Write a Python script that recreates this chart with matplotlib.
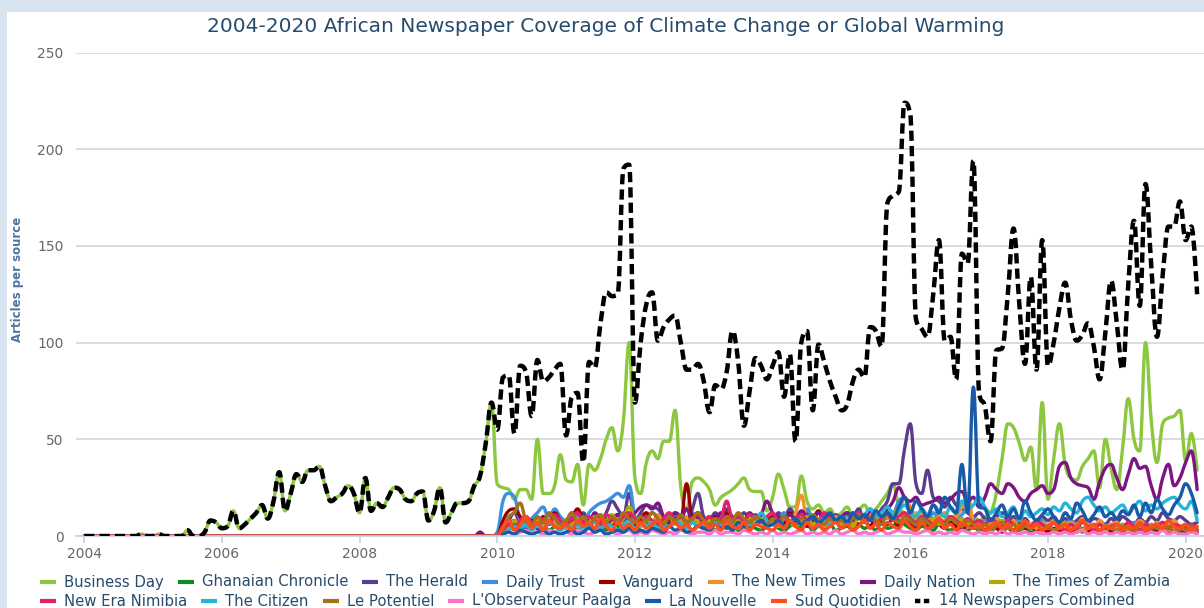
import numpy as np
import pandas as pd
import matplotlib
matplotlib.use("Agg")
import matplotlib.pyplot as plt
from matplotlib.path import Path
from matplotlib.patches import PathPatch, Rectangle
from matplotlib.lines import Line2D

# ---------------- data (monthly, Jan 2004 - Mar 2020) ----------------
months = pd.date_range("2004-01-01", "2020-03-01", freq="MS")

business_day = [
    0, 0, 0, 0, 0, 0, 0, 0, 0, 0, 1, 0,
    0, 1, 0, 0, 0, 0, 3, 0, 0, 2, 8, 7,
    4, 5, 13, 4, 6, 9, 12, 16, 9, 18, 33, 13,
    22, 32, 28, 34, 34, 36, 26, 18, 20, 22, 26, 22,
    12, 30, 13, 17, 15, 20, 25, 24, 19, 18, 22, 23,
    8, 13, 25, 7, 12, 17, 17, 18, 26, 31, 48, 69,
    27, 25, 24, 19, 24, 24, 19, 50, 22, 22, 26, 42,
    29, 28, 37, 16, 37, 34, 40, 50, 56, 44, 60, 100,
    30, 22, 38, 44, 40, 49, 49, 65, 25, 14, 28, 30,
    28, 24, 16, 20, 22, 24, 27, 30, 24, 23, 23, 13,
    20, 32, 24, 15, 15, 31, 18, 14, 16, 12, 14, 10,
    12, 15, 10, 13, 16, 12, 14, 18, 22, 27, 15, 12,
    10, 12, 8, 11, 9, 12, 10, 8, 11, 9, 7, 10,
    8, 10, 12, 22, 40, 58, 56, 48, 39, 46, 24, 69,
    19, 40, 58, 37, 30, 29, 36, 40, 44, 25, 50, 35,
    24, 45, 71, 50, 44, 100, 60, 38, 58, 61, 62, 65,
    39, 53, 34,
]

ghanaian_chronicle = [
    0, 0, 0, 0, 0, 0, 0, 0, 0, 0, 0, 0,
    0, 0, 0, 0, 0, 0, 0, 0, 0, 0, 0, 0,
    0, 0, 0, 0, 0, 0, 0, 0, 0, 0, 0, 0,
    0, 0, 0, 0, 0, 0, 0, 0, 0, 0, 0, 0,
    0, 0, 0, 0, 0, 0, 0, 0, 0, 0, 0, 0,
    0, 0, 0, 0, 0, 0, 0, 0, 0, 0, 0, 0,
    0, 2, 4, 6, 3, 5, 8, 4, 6, 3, 5, 7,
    4, 6, 3, 5, 7, 4, 6, 3, 8, 5, 4, 6,
    3, 5, 7, 4, 6, 3, 5, 8, 4, 6, 3, 5,
    4, 6, 3, 5, 4, 7, 3, 5, 6, 4, 3, 5,
    6, 4, 3, 5, 7, 4, 6, 3, 5, 4, 6, 3,
    4, 5, 3, 6, 4, 5, 3, 7, 4, 5, 8, 6,
    4, 3, 5, 4, 3, 6, 4, 3, 5, 4, 3, 5,
    3, 4, 2, 5, 3, 4, 2, 3, 4, 2, 3, 4,
    2, 3, 4, 2, 3, 2, 4, 3, 2, 3, 4, 2,
    3, 2, 4, 3, 2, 3, 2, 4, 3, 2, 3, 2,
    3, 2, 3,
]

the_herald = [
    0, 0, 0, 0, 0, 0, 0, 0, 0, 0, 0, 0,
    0, 0, 0, 0, 0, 0, 0, 0, 0, 0, 0, 0,
    0, 0, 0, 0, 0, 0, 0, 0, 0, 0, 0, 0,
    0, 0, 0, 0, 0, 0, 0, 0, 0, 0, 0, 0,
    0, 0, 0, 0, 0, 0, 0, 0, 0, 0, 0, 0,
    0, 0, 0, 0, 0, 0, 0, 0, 0, 0, 0, 0,
    0, 3, 8, 12, 6, 4, 8, 5, 7, 10, 6, 8,
    5, 9, 6, 12, 8, 10, 7, 12, 18, 14, 10, 22,
    8, 12, 16, 15, 14, 10, 8, 12, 10, 6, 14, 22,
    10, 8, 12, 9, 14, 10, 8, 12, 9, 11, 8, 10,
    7, 12, 9, 14, 10, 8, 12, 9, 7, 10, 8, 11,
    9, 12, 10, 14, 8, 12, 10, 14, 18, 27, 27, 45,
    58, 27, 22, 34, 20, 18, 15, 20, 16, 14, 12, 10,
    12, 9, 8, 10, 12, 8, 10, 7, 9, 6, 8, 10,
    8, 10, 7, 9, 6, 8, 10, 7, 9, 8, 6, 9,
    7, 10, 8, 6, 9, 7, 10, 8, 12, 9, 8, 10,
    8, 6, 7,
]

daily_trust = [
    0, 0, 0, 0, 0, 0, 0, 0, 0, 0, 0, 0,
    0, 0, 0, 0, 0, 0, 0, 0, 0, 0, 0, 0,
    0, 0, 0, 0, 0, 0, 0, 0, 0, 0, 0, 0,
    0, 0, 0, 0, 0, 0, 0, 0, 0, 0, 0, 0,
    0, 0, 0, 0, 0, 0, 0, 0, 0, 0, 0, 0,
    0, 0, 0, 0, 0, 0, 0, 0, 0, 0, 0, 0,
    2, 18, 22, 20, 8, 5, 9, 12, 15, 9, 14, 10,
    8, 12, 10, 6, 12, 15, 17, 18, 20, 22, 20, 26,
    10, 6, 8, 12, 9, 5, 7, 10, 6, 8, 12, 7,
    5, 8, 6, 10, 7, 9, 5, 6, 8, 10, 7, 9,
    6, 8, 12, 7, 9, 6, 14, 8, 5, 10, 7, 9,
    6, 10, 8, 12, 9, 14, 10, 8, 15, 12, 18, 20,
    12, 8, 10, 7, 12, 9, 6, 10, 8, 11, 14, 9,
    6, 8, 5, 9, 7, 6, 8, 5, 7, 4, 6, 8,
    5, 7, 4, 6, 8, 5, 3, 6, 4, 7, 5, 6,
    4, 6, 5, 7, 3, 5, 6, 4, 7, 5, 6, 4,
    5, 3, 4,
]

vanguard = [
    0, 0, 0, 0, 0, 0, 0, 0, 0, 0, 0, 0,
    0, 0, 0, 0, 0, 0, 0, 0, 0, 0, 0, 0,
    0, 0, 0, 0, 0, 0, 0, 0, 0, 0, 0, 0,
    0, 0, 0, 0, 0, 0, 0, 0, 0, 0, 0, 0,
    0, 0, 0, 0, 0, 0, 0, 0, 0, 0, 0, 0,
    0, 0, 0, 0, 0, 0, 0, 0, 0, 0, 0, 0,
    0, 8, 13, 14, 10, 6, 8, 5, 10, 7, 12, 8,
    6, 9, 14, 8, 5, 10, 7, 9, 6, 11, 8, 10,
    5, 9, 12, 7, 10, 8, 6, 9, 8, 27, 10, 12,
    8, 6, 10, 7, 12, 9, 5, 8, 10, 6, 9, 7,
    10, 8, 6, 12, 7, 9, 5, 8, 13, 6, 10, 8,
    5, 7, 9, 6, 8, 5, 10, 7, 6, 9, 5, 8,
    6, 4, 7, 5, 8, 6, 4, 7, 5, 3, 6, 4,
    5, 3, 6, 4, 2, 5, 3, 6, 4, 5, 3, 4,
    2, 4, 3, 5, 2, 4, 3, 2, 5, 3, 4, 2,
    3, 5, 2, 4, 3, 2, 5, 3, 4, 2, 3, 4,
    2, 3, 2,
]

the_new_times = [
    0, 0, 0, 0, 0, 0, 0, 0, 0, 0, 0, 0,
    0, 0, 0, 0, 0, 0, 0, 0, 0, 0, 0, 0,
    0, 0, 0, 0, 0, 0, 0, 0, 0, 0, 0, 0,
    0, 0, 0, 0, 0, 0, 0, 0, 0, 0, 0, 0,
    0, 0, 0, 0, 0, 0, 0, 0, 0, 0, 0, 0,
    0, 0, 0, 0, 0, 0, 0, 0, 0, 0, 0, 0,
    0, 2, 5, 8, 6, 10, 4, 7, 5, 9, 6, 8,
    4, 7, 5, 9, 6, 8, 10, 5, 7, 9, 6, 12,
    8, 5, 9, 6, 11, 7, 5, 8, 6, 10, 7, 9,
    6, 9, 7, 5, 10, 8, 6, 9, 5, 7, 10, 6,
    8, 5, 9, 7, 12, 21, 8, 6, 9, 5, 8, 10,
    7, 9, 6, 10, 8, 12, 9, 11, 14, 10, 12, 20,
    15, 10, 12, 9, 8, 10, 12, 9, 10, 15, 22, 8,
    8, 5, 7, 9, 6, 4, 8, 5, 7, 6, 4, 7,
    5, 8, 6, 4, 7, 5, 9, 6, 4, 8, 5, 6,
    7, 4, 6, 5, 8, 6, 4, 7, 5, 6, 8, 5,
    6, 4, 5,
]

daily_nation = [
    0, 0, 0, 0, 0, 0, 0, 0, 0, 0, 0, 0,
    0, 0, 0, 0, 0, 0, 0, 0, 0, 0, 0, 0,
    0, 0, 0, 0, 0, 0, 0, 0, 0, 0, 0, 0,
    0, 0, 0, 0, 0, 0, 0, 0, 0, 0, 0, 0,
    0, 0, 0, 0, 0, 0, 0, 0, 0, 0, 0, 0,
    0, 0, 0, 0, 0, 0, 0, 0, 0, 2, 0, 0,
    0, 3, 6, 8, 5, 9, 6, 4, 8, 6, 10, 7,
    5, 8, 6, 10, 7, 12, 8, 6, 9, 11, 8, 10,
    12, 15, 16, 14, 17, 10, 8, 12, 9, 14, 8, 10,
    7, 10, 8, 12, 9, 6, 10, 8, 12, 9, 11, 18,
    12, 10, 8, 11, 9, 13, 10, 8, 12, 9, 10, 8,
    10, 12, 8, 11, 9, 13, 10, 12, 14, 18, 25, 20,
    18, 20, 16, 17, 18, 20, 17, 19, 22, 23, 18, 20,
    15, 20, 27, 24, 22, 27, 25, 20, 18, 22, 24, 26,
    22, 24, 36, 38, 30, 27, 26, 25, 19, 28, 35, 37,
    30, 24, 32, 40, 35, 36, 26, 19, 30, 37, 26, 30,
    38, 44, 24,
]

times_of_zambia = [
    0, 0, 0, 0, 0, 0, 0, 0, 0, 0, 0, 0,
    0, 0, 0, 0, 0, 0, 0, 0, 0, 0, 0, 0,
    0, 0, 0, 0, 0, 0, 0, 0, 0, 0, 0, 0,
    0, 0, 0, 0, 0, 0, 0, 0, 0, 0, 0, 0,
    0, 0, 0, 0, 0, 0, 0, 0, 0, 0, 0, 0,
    0, 0, 0, 0, 0, 0, 0, 0, 0, 0, 0, 0,
    0, 2, 4, 8, 5, 10, 6, 8, 4, 7, 9, 5,
    8, 6, 9, 5, 7, 10, 6, 8, 11, 7, 9, 15,
    8, 6, 9, 5, 7, 8, 10, 6, 8, 5, 9, 7,
    5, 8, 6, 9, 7, 5, 8, 6, 10, 7, 9, 6,
    8, 6, 9, 7, 5, 8, 10, 6, 8, 7, 5, 9,
    6, 8, 5, 9, 7, 10, 8, 12, 9, 11, 14, 10,
    12, 8, 10, 7, 9, 6, 8, 10, 7, 9, 6, 8,
    5, 7, 4, 6, 8, 5, 7, 4, 6, 5, 7, 4,
    6, 3, 5, 7, 4, 6, 3, 5, 4, 6, 3, 5,
    4, 6, 3, 5, 4, 3, 6, 4, 5, 3, 4, 5,
    3, 4, 3,
]

new_era = [
    0, 0, 0, 0, 0, 0, 0, 0, 0, 0, 0, 0,
    0, 0, 0, 0, 0, 0, 0, 0, 0, 0, 0, 0,
    0, 0, 0, 0, 0, 0, 0, 0, 0, 0, 0, 0,
    0, 0, 0, 0, 0, 0, 0, 0, 0, 0, 0, 0,
    0, 0, 0, 0, 0, 0, 0, 0, 0, 0, 0, 0,
    0, 0, 0, 0, 0, 0, 0, 0, 0, 0, 0, 0,
    0, 3, 6, 4, 8, 10, 7, 5, 9, 6, 11, 8,
    6, 9, 12, 7, 10, 8, 6, 11, 9, 7, 10, 12,
    9, 7, 10, 8, 6, 9, 12, 8, 10, 7, 9, 11,
    8, 10, 7, 9, 18, 9, 10, 8, 11, 9, 7, 10,
    12, 8, 10, 7, 9, 11, 8, 10, 7, 12, 9, 8,
    10, 7, 9, 12, 8, 10, 7, 9, 11, 8, 10, 12,
    9, 7, 10, 8, 6, 9, 7, 10, 8, 6, 9, 7,
    8, 6, 9, 7, 5, 8, 6, 4, 7, 5, 8, 6,
    4, 7, 5, 3, 6, 4, 7, 5, 3, 6, 4, 5,
    6, 4, 7, 5, 3, 6, 4, 5, 7, 4, 6, 5,
    4, 6, 3,
]

the_citizen = [
    0, 0, 0, 0, 0, 0, 0, 0, 0, 0, 0, 0,
    0, 0, 0, 0, 0, 0, 0, 0, 0, 0, 0, 0,
    0, 0, 0, 0, 0, 0, 0, 0, 0, 0, 0, 0,
    0, 0, 0, 0, 0, 0, 0, 0, 0, 0, 0, 0,
    0, 0, 0, 0, 0, 0, 0, 0, 0, 0, 0, 0,
    0, 0, 0, 0, 0, 0, 0, 0, 0, 0, 0, 0,
    0, 1, 3, 5, 4, 6, 3, 5, 4, 7, 5, 3,
    5, 4, 6, 3, 5, 7, 4, 6, 5, 3, 6, 8,
    4, 6, 5, 7, 4, 6, 5, 8, 6, 4, 7, 5,
    6, 4, 7, 5, 8, 6, 4, 7, 5, 6, 12, 8,
    6, 8, 5, 7, 9, 6, 8, 10, 7, 9, 6, 8,
    10, 8, 12, 9, 11, 14, 10, 12, 15, 11, 13, 16,
    12, 10, 14, 11, 16, 13, 10, 15, 12, 18, 14, 16,
    20, 15, 12, 14, 10, 12, 15, 8, 13, 10, 12, 14,
    11, 15, 13, 17, 14, 12, 18, 20, 16, 13, 15, 12,
    14, 16, 12, 15, 18, 13, 16, 14, 17, 19, 20, 16,
    14, 18, 8,
]

le_potentiel = [
    0, 0, 0, 0, 0, 0, 0, 0, 0, 0, 0, 0,
    0, 0, 0, 0, 0, 0, 0, 0, 0, 0, 0, 0,
    0, 0, 0, 0, 0, 0, 0, 0, 0, 0, 0, 0,
    0, 0, 0, 0, 0, 0, 0, 0, 0, 0, 0, 0,
    0, 0, 0, 0, 0, 0, 0, 0, 0, 0, 0, 0,
    0, 0, 0, 0, 0, 0, 0, 0, 0, 0, 0, 0,
    0, 4, 10, 12, 17, 8, 6, 10, 7, 12, 9, 6,
    8, 12, 7, 10, 6, 9, 11, 7, 10, 8, 12, 9,
    7, 10, 8, 12, 9, 6, 10, 8, 11, 7, 9, 12,
    8, 6, 9, 7, 10, 8, 12, 9, 7, 10, 8, 6,
    9, 7, 10, 8, 6, 9, 7, 11, 8, 6, 9, 7,
    8, 6, 9, 11, 7, 10, 8, 6, 12, 9, 7, 10,
    8, 6, 9, 7, 5, 8, 6, 9, 7, 5, 8, 6,
    4, 6, 3, 5, 7, 4, 6, 3, 5, 4, 6, 3,
    5, 3, 4, 6, 3, 5, 2, 4, 6, 3, 5, 4,
    3, 5, 4, 2, 6, 3, 5, 4, 3, 5, 2, 4,
    3, 5, 2,
]

observateur_paalga = [
    0, 0, 0, 0, 0, 0, 0, 0, 0, 0, 0, 0,
    0, 0, 0, 0, 0, 0, 0, 0, 0, 0, 0, 0,
    0, 0, 0, 0, 0, 0, 0, 0, 0, 0, 0, 0,
    0, 0, 0, 0, 0, 0, 0, 0, 0, 0, 0, 0,
    0, 0, 0, 0, 0, 0, 0, 0, 0, 0, 0, 0,
    0, 0, 0, 0, 0, 0, 0, 0, 0, 0, 0, 0,
    0, 1, 2, 1, 2, 3, 1, 2, 1, 3, 2, 1,
    2, 1, 3, 2, 1, 2, 3, 1, 2, 1, 2, 3,
    1, 2, 1, 3, 2, 1, 2, 1, 3, 2, 1, 2,
    2, 1, 3, 1, 2, 2, 1, 3, 2, 1, 2, 1,
    3, 1, 2, 1, 2, 3, 1, 2, 1, 2, 1, 3,
    1, 2, 3, 1, 2, 1, 2, 3, 1, 2, 3, 2,
    2, 1, 2, 3, 1, 2, 1, 2, 1, 3, 2, 1,
    2, 1, 2, 1, 3, 1, 2, 1, 2, 1, 2, 1,
    1, 2, 1, 2, 1, 2, 3, 1, 2, 1, 2, 1,
    2, 1, 2, 1, 2, 1, 2, 1, 3, 1, 2, 1,
    1, 2, 1,
]

la_nouvelle = [
    0, 0, 0, 0, 0, 0, 0, 0, 0, 0, 0, 0,
    0, 0, 0, 0, 0, 0, 0, 0, 0, 0, 0, 0,
    0, 0, 0, 0, 0, 0, 0, 0, 0, 0, 0, 0,
    0, 0, 0, 0, 0, 0, 0, 0, 0, 0, 0, 0,
    0, 0, 0, 0, 0, 0, 0, 0, 0, 0, 0, 0,
    0, 0, 0, 0, 0, 0, 0, 0, 0, 0, 0, 0,
    0, 1, 2, 1, 3, 2, 1, 2, 3, 1, 2, 1,
    2, 3, 1, 2, 4, 2, 3, 1, 2, 3, 2, 4,
    2, 3, 2, 4, 3, 2, 5, 3, 4, 2, 3, 5,
    4, 3, 6, 4, 5, 3, 7, 5, 4, 6, 8, 5,
    6, 8, 5, 7, 9, 6, 8, 10, 7, 9, 12, 8,
    10, 7, 12, 9, 11, 8, 13, 10, 12, 9, 15, 20,
    12, 18, 14, 10, 16, 12, 20, 15, 12, 37, 12, 77,
    15, 14, 8, 12, 16, 10, 14, 9, 18, 12, 8, 11,
    14, 10, 7, 12, 9, 17, 13, 8, 11, 15, 10, 12,
    9, 13, 11, 16, 10, 17, 12, 19, 14, 11, 16, 20,
    27, 22, 12,
]

sud_quotidien = [
    0, 0, 0, 0, 0, 0, 0, 0, 0, 0, 0, 0,
    0, 0, 0, 0, 0, 0, 0, 0, 0, 0, 0, 0,
    0, 0, 0, 0, 0, 0, 0, 0, 0, 0, 0, 0,
    0, 0, 0, 0, 0, 0, 0, 0, 0, 0, 0, 0,
    0, 0, 0, 0, 0, 0, 0, 0, 0, 0, 0, 0,
    0, 0, 0, 0, 0, 0, 0, 0, 0, 0, 0, 0,
    0, 5, 8, 3, 6, 10, 4, 7, 3, 8, 5, 4,
    6, 3, 8, 5, 7, 4, 9, 5, 3, 7, 4, 6,
    3, 7, 4, 6, 8, 3, 5, 7, 4, 6, 3, 5,
    7, 4, 6, 3, 8, 5, 4, 7, 3, 6, 5, 4,
    3, 6, 4, 8, 5, 3, 7, 4, 6, 3, 5, 7,
    4, 6, 3, 5, 8, 4, 6, 3, 7, 5, 4, 8,
    5, 3, 7, 4, 6, 9, 4, 6, 3, 7, 5, 4,
    6, 3, 5, 7, 4, 6, 3, 5, 8, 4, 6, 3,
    5, 7, 4, 6, 3, 5, 8, 4, 6, 3, 5, 4,
    6, 3, 5, 4, 7, 3, 5, 6, 4, 8, 5, 4,
    6, 3, 5,
]

combined = [
    0, 0, 0, 0, 0, 0, 0, 0, 0, 0, 1, 0,
    0, 1, 0, 0, 0, 0, 3, 0, 0, 2, 8, 7,
    4, 5, 13, 4, 6, 9, 12, 16, 9, 18, 33, 13,
    22, 32, 28, 34, 34, 36, 26, 18, 20, 22, 26, 22,
    12, 30, 13, 17, 15, 20, 25, 24, 19, 18, 22, 23,
    8, 13, 25, 7, 12, 17, 17, 18, 26, 31, 48, 69,
    55, 82, 83, 53, 88, 85, 62, 91, 80, 82, 86, 89,
    52, 72, 74, 38, 90, 87, 110, 126, 124, 125, 190, 192,
    69, 100, 120, 126, 101, 108, 112, 114, 100, 86, 86, 89,
    80, 64, 78, 76, 85, 106, 90, 57, 75, 92, 88, 81,
    88, 95, 72, 94, 49, 100, 106, 65, 99, 90, 80, 72,
    65, 68, 80, 86, 82, 108, 106, 98, 172, 176, 178, 224,
    218, 112, 107, 103, 125, 153, 101, 103, 81, 146, 141, 194,
    74, 67, 49, 96, 97, 125, 159, 120, 89, 134, 86, 153,
    88, 100, 118, 131, 112, 101, 104, 110, 98, 81, 105, 132,
    110, 86, 130, 163, 119, 182, 140, 103, 135, 160, 160, 173,
    153, 160, 125,
]

names = ["Business Day", "Ghanaian Chronicle", "The Herald", "Daily Trust",
         "Vanguard", "The New Times", "Daily Nation", "The Times of Zambia",
         "New Era Nimibia", "The Citizen", "Le Potentiel", "L'Observateur Paalga",
         "La Nouvelle", "Sud Quotidien", "14 Newspapers Combined"]
values = [business_day, ghanaian_chronicle, the_herald, daily_trust, vanguard,
          the_new_times, daily_nation, times_of_zambia, new_era, the_citizen,
          le_potentiel, observateur_paalga, la_nouvelle, sud_quotidien, combined]
colors = ["#8dc63f", "#0d8c22", "#5c3c8c", "#3d8fe0", "#990000", "#f0902a",
          "#7c1582", "#b5a900", "#e0226a", "#24b5da", "#a4701c", "#ff70c8",
          "#195aa8", "#ff4c1c", "#000000"]

for n, v in zip(names, values):
    assert len(v) == len(months), (n, len(v), len(months))

# ---------------- helpers ----------------
def spline_path(xs, ys):
    """Highcharts-style spline through the data points (cubic Bezier)."""
    n = len(xs)
    sm = 1.5
    den = sm + 1
    lc = [None] * n
    rc = [None] * n
    for i in range(1, n - 1):
        px, py = xs[i], ys[i]
        lx, ly = xs[i - 1], ys[i - 1]
        nx, ny = xs[i + 1], ys[i + 1]
        lcx = (sm * px + lx) / den
        lcy = (sm * py + ly) / den
        rcx = (sm * px + nx) / den
        rcy = (sm * py + ny) / den
        corr = 0.0
        if rcx != lcx:
            corr = ((rcy - lcy) * (rcx - px)) / (rcx - lcx) + py - rcy
        lcy += corr
        rcy += corr
        if lcy > ly and lcy > py:
            lcy = max(ly, py)
            rcy = 2 * py - lcy
        elif lcy < ly and lcy < py:
            lcy = min(ly, py)
            rcy = 2 * py - lcy
        if rcy > ny and rcy > py:
            rcy = max(ny, py)
            lcy = 2 * py - rcy
        elif rcy < ny and rcy < py:
            rcy = min(ny, py)
            lcy = 2 * py - rcy
        lc[i] = (lcx, lcy)
        rc[i] = (rcx, rcy)
    verts = [(xs[0], ys[0])]
    codes = [Path.MOVETO]
    for i in range(1, n):
        c1 = rc[i - 1] if rc[i - 1] is not None else (xs[i - 1], ys[i - 1])
        c2 = lc[i] if lc[i] is not None else (xs[i], ys[i])
        verts += [c1, c2, (xs[i], ys[i])]
        codes += [Path.CURVE4] * 3
    return Path(verts, codes)

# ---------------- figure ----------------
W, H = 1204, 608
fig = plt.figure(figsize=(W / 100, H / 100), dpi=100, facecolor="#d9e4f1")
fig.patches.append(Rectangle((7 / W, 0), 1, 1 - 12 / H, transform=fig.transFigure,
                             facecolor="white", edgecolor="none", zorder=-10))

ax = fig.add_axes([76 / W, (H - 536) / H, 1 - 76 / W, (536 - 52.5) / H])
ax.set_facecolor("none")

xs = (months.year + (months.month - 1) / 12.0).to_numpy(dtype=float)

for k, (name, vals, col) in enumerate(zip(names, values, colors)):
    path = spline_path(xs, np.asarray(vals, dtype=float))
    if name.startswith("14"):
        patch = PathPatch(path, facecolor="none", edgecolor=col, lw=3.2,
                          linestyle=(0, (2.3, 1.15)), capstyle="butt",
                          joinstyle="round", zorder=3 + k * 0.01)
    else:
        patch = PathPatch(path, facecolor="none", edgecolor=col, lw=2.4,
                          capstyle="round", joinstyle="round", zorder=2 + k * 0.01)
    ax.add_patch(patch)

ax.set_xlim(2004 - 8.2 / 68.84, 2004 + (1204 - 84.2) / 68.84)
ax.set_ylim(0, 250)

ax.set_yticks([0, 50, 100, 150, 200, 250])
ax.set_xticks(list(range(2004, 2021, 2)))
ax.set_xticklabels([str(y) for y in range(2004, 2021, 2)])
ax.grid(axis="y", color="#d6d6d6", lw=1.2)
ax.set_axisbelow(True)
for s in ["top", "right", "left"]:
    ax.spines[s].set_visible(False)
ax.spines["bottom"].set_color("#c0d0e0")
ax.spines["bottom"].set_linewidth(1.2)
ax.tick_params(axis="y", length=0, labelsize=10, labelcolor="#666666", pad=9)
ax.tick_params(axis="x", length=5, width=1.2, color="#c0d0e0",
               labelsize=10, labelcolor="#666666", pad=3)

fig.text(606 / W, 1 - 27 / H,
         "2004-2020 African Newspaper Coverage of Climate Change or Global Warming",
         ha="center", va="center", fontsize=14.5, color="#274b6d")
fig.text(18 / W, 1 - 279 / H, "Articles per source", rotation=90, ha="center",
         va="center", fontsize=8.5, fontweight="bold", color="#4d759e")

# ---------------- legend (flowing, two rows) ----------------
renderer = fig.canvas.get_renderer()
rows = [(list(range(0, 8)), 582), (list(range(8, 15)), 601)]
for idx, ypix in rows:
    cursor = 40
    yf = 1 - ypix / H
    for i in idx:
        if names[i].startswith("14"):
            ln = Line2D([cursor / W, (cursor + 16) / W], [yf, yf], transform=fig.transFigure,
                        color=colors[i], lw=3.2, linestyle=(0, (1.2, 0.8)))
        else:
            ln = Line2D([cursor / W, (cursor + 16) / W], [yf, yf], transform=fig.transFigure,
                        color=colors[i], lw=3.0, solid_capstyle="butt")
        fig.lines.append(ln)
        t = fig.text((cursor + 24) / W, yf, names[i], ha="left", va="center",
                     fontsize=10.7, color="#274b6d")
        wpx = t.get_window_extent(renderer).width
        cursor = cursor + 24 + wpx + 14

fig.savefig("out.png", dpi=100, facecolor=fig.get_facecolor())
